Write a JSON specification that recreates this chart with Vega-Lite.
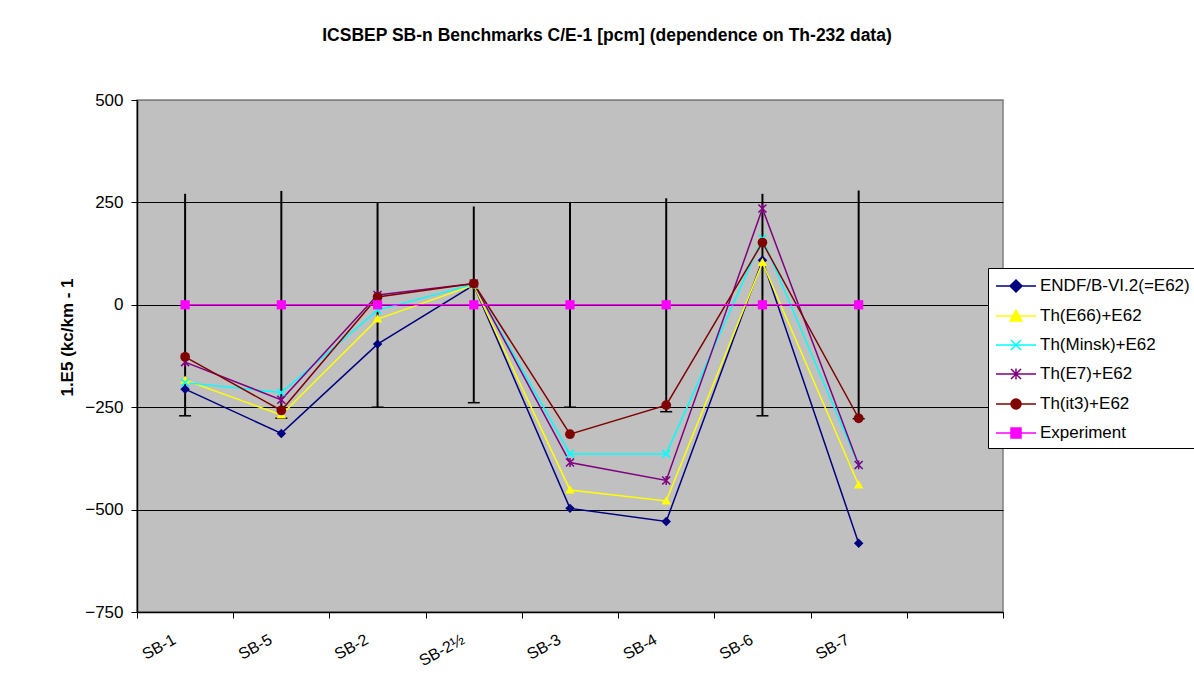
{
  "$schema": "https://vega.github.io/schema/vega-lite/v6.json",
  "width": 866,
  "height": 512,
  "autosize": {"type": "none"},
  "padding": {"left": 137, "top": 100, "right": 191, "bottom": 78},
  "background": "white",
  "title": {
    "text": "ICSBEP SB-n Benchmarks C/E-1 [pcm] (dependence on Th-232 data)",
    "font": "Liberation Sans",
    "fontSize": 17.5,
    "fontWeight": "bold",
    "color": "black",
    "anchor": "middle",
    "dx": 37,
    "offset": 47
  },
  "config": {
    "view": {"fill": "#C0C0C0", "stroke": "#808080", "strokeWidth": 1.5},
    "font": "Liberation Sans"
  },
  "datasets": {
    "err": [
      {"cat": "SB-1", "lo": -271, "hi": 271},
      {"cat": "SB-5", "lo": -277, "hi": 278},
      {"cat": "SB-2", "lo": -250, "hi": 250},
      {"cat": "SB-2½", "lo": -239, "hi": 240},
      {"cat": "SB-3", "lo": -250, "hi": 250},
      {"cat": "SB-4", "lo": -261, "hi": 260},
      {"cat": "SB-6", "lo": -271, "hi": 271},
      {"cat": "SB-7", "lo": -278, "hi": 279}
    ],
    "pts": [
      {"cat": "SB-1", "series": "ENDF/B-VI.2(=E62)", "value": -206},
      {"cat": "SB-5", "series": "ENDF/B-VI.2(=E62)", "value": -314},
      {"cat": "SB-2", "series": "ENDF/B-VI.2(=E62)", "value": -96},
      {"cat": "SB-2½", "series": "ENDF/B-VI.2(=E62)", "value": 48},
      {"cat": "SB-3", "series": "ENDF/B-VI.2(=E62)", "value": -497},
      {"cat": "SB-4", "series": "ENDF/B-VI.2(=E62)", "value": -529},
      {"cat": "SB-6", "series": "ENDF/B-VI.2(=E62)", "value": 109},
      {"cat": "SB-7", "series": "ENDF/B-VI.2(=E62)", "value": -582},
      {"cat": "SB-1", "series": "Th(E66)+E62", "value": -184},
      {"cat": "SB-5", "series": "Th(E66)+E62", "value": -269},
      {"cat": "SB-2", "series": "Th(E66)+E62", "value": -35},
      {"cat": "SB-2½", "series": "Th(E66)+E62", "value": 48},
      {"cat": "SB-3", "series": "Th(E66)+E62", "value": -452},
      {"cat": "SB-4", "series": "Th(E66)+E62", "value": -479},
      {"cat": "SB-6", "series": "Th(E66)+E62", "value": 103},
      {"cat": "SB-7", "series": "Th(E66)+E62", "value": -440},
      {"cat": "SB-1", "series": "Th(Minsk)+E62", "value": -190},
      {"cat": "SB-5", "series": "Th(Minsk)+E62", "value": -214},
      {"cat": "SB-2", "series": "Th(Minsk)+E62", "value": -13},
      {"cat": "SB-2½", "series": "Th(Minsk)+E62", "value": 50},
      {"cat": "SB-3", "series": "Th(Minsk)+E62", "value": -364},
      {"cat": "SB-4", "series": "Th(Minsk)+E62", "value": -364},
      {"cat": "SB-6", "series": "Th(Minsk)+E62", "value": 162},
      {"cat": "SB-7", "series": "Th(Minsk)+E62", "value": -391},
      {"cat": "SB-1", "series": "Th(E7)+E62", "value": -140},
      {"cat": "SB-5", "series": "Th(E7)+E62", "value": -232},
      {"cat": "SB-2", "series": "Th(E7)+E62", "value": 24},
      {"cat": "SB-2½", "series": "Th(E7)+E62", "value": 52},
      {"cat": "SB-3", "series": "Th(E7)+E62", "value": -385},
      {"cat": "SB-4", "series": "Th(E7)+E62", "value": -429},
      {"cat": "SB-6", "series": "Th(E7)+E62", "value": 235},
      {"cat": "SB-7", "series": "Th(E7)+E62", "value": -391},
      {"cat": "SB-1", "series": "Th(it3)+E62", "value": -127},
      {"cat": "SB-5", "series": "Th(it3)+E62", "value": -258},
      {"cat": "SB-2", "series": "Th(it3)+E62", "value": 19},
      {"cat": "SB-2½", "series": "Th(it3)+E62", "value": 52},
      {"cat": "SB-3", "series": "Th(it3)+E62", "value": -316},
      {"cat": "SB-4", "series": "Th(it3)+E62", "value": -245},
      {"cat": "SB-6", "series": "Th(it3)+E62", "value": 152},
      {"cat": "SB-7", "series": "Th(it3)+E62", "value": -277},
      {"cat": "SB-1", "series": "Experiment", "value": 0},
      {"cat": "SB-5", "series": "Experiment", "value": 0},
      {"cat": "SB-2", "series": "Experiment", "value": 0},
      {"cat": "SB-2½", "series": "Experiment", "value": 0},
      {"cat": "SB-3", "series": "Experiment", "value": 0},
      {"cat": "SB-4", "series": "Experiment", "value": 0},
      {"cat": "SB-6", "series": "Experiment", "value": 0},
      {"cat": "SB-7", "series": "Experiment", "value": 0}
    ]
  },
  "layer": [
    {
      "data": {"name": "err"},
      "mark": {"type": "rule", "color": "black", "strokeWidth": 2},
      "encoding": {
        "x": {
          "field": "cat", "type": "nominal", "bandPosition": 0.5,
          "scale": {"type": "band", "domain": ["SB-1", "SB-5", "SB-2", "SB-2½", "SB-3", "SB-4", "SB-6", "SB-7", " "], "paddingInner": 0, "paddingOuter": 0},
          "axis": {
            "title": null, "grid": false, "tickBand": "extent",
            "domainColor": "black", "domainWidth": 1.5, "tickColor": "black", "tickSize": 6, "tickWidth": 1,
            "labelAngle": -29, "labelAlign": "right", "labelBaseline": "middle", "labelPadding": 20, "labelOffset": -11,
            "labelFont": "Liberation Sans", "labelFontSize": 16, "labelColor": "black"
          }
        },
        "y": {
          "field": "lo", "type": "quantitative",
          "scale": {"domain": [-750, 500], "nice": false, "zero": false},
          "axis": {
            "values": [-750, -500, -250, 0, 250, 500],
            "grid": true,
            "gridColor": {"condition": {"test": "datum.value === 500", "value": "#808080"}, "value": "black"},
            "gridWidth": 1,
            "domainColor": "black", "domainWidth": 1.5, "tickColor": "black", "tickSize": 6,
            "labelFont": "Liberation Sans", "labelFontSize": 17, "labelColor": "black", "labelPadding": 8,
            "title": "1.E5 (kc/km - 1", "titleFont": "Liberation Sans", "titleFontSize": 17, "titleFontWeight": "bold", "titleColor": "black",
            "titleX": -70, "titleY": 237, "titleAngle": -90, "titleAlign": "center", "titleBaseline": "middle"
          }
        },
        "y2": {"field": "hi"}
      }
    },
    {
      "data": {"name": "err"},
      "mark": {"type": "tick", "color": "black", "thickness": 1.5, "size": 12, "orient": "horizontal", "opacity": 1},
      "encoding": {
        "x": {"field": "cat", "type": "nominal", "bandPosition": 0.5},
        "y": {"field": "lo", "type": "quantitative"}
      }
    },
    {
      "data": {"name": "pts"},
      "mark": {"type": "line", "strokeWidth": 1.5},
      "encoding": {
        "x": {"field": "cat", "type": "nominal", "bandPosition": 0.5},
        "y": {"field": "value", "type": "quantitative"},
        "color": {
          "field": "series", "type": "nominal",
          "scale": {
            "domain": ["ENDF/B-VI.2(=E62)", "Th(E66)+E62", "Th(Minsk)+E62", "Th(E7)+E62", "Th(it3)+E62", "Experiment"],
            "range": ["#000080", "#FFFF00", "#00FFFF", "#800080", "#800000", "#FF00FF"]
          },
          "legend": {
            "title": null, "orient": "none", "legendX": 851, "legendY": 168,
            "fillColor": "white", "strokeColor": "black", "padding": 7, "cornerRadius": 0,
            "labelFont": "Liberation Sans", "labelFontSize": 17, "labelColor": "black", "labelLimit": 300,
            "symbolSize": 400, "rowPadding": 10, "symbolOffset": 10, "labelOffset": 13,
            "encode": {
              "symbols": {
                "update": {
                  "shape": {"signal": "datum.value === 'ENDF/B-VI.2(=E62)' ? 'M-2,0H2M0,-0.6L0.6,0L0,0.6L-0.6,0Z' : datum.value === 'Th(E66)+E62' ? 'M-2,0H2M0,-0.6L0.6,0.5L-0.6,0.5Z' : datum.value === 'Th(Minsk)+E62' ? 'M-2,0H2M-0.5,-0.5L0.5,0.5M-0.5,0.5L0.5,-0.5' : datum.value === 'Th(E7)+E62' ? 'M-2,0H2M-0.5,-0.5L0.5,0.5M-0.5,0.5L0.5,-0.5M0,-0.55L0,0.55' : datum.value === 'Th(it3)+E62' ? 'M-2,0H2M-0.5,0A0.5,0.5,0,1,1,0.5,0A0.5,0.5,0,1,1,-0.5,0Z' : 'M-2,0H2M-0.5,-0.5H0.5V0.5H-0.5Z'"},
                  "fill": {"scale": "color", "field": "value"},
                  "stroke": {"scale": "color", "field": "value"},
                  "strokeWidth": {"value": 1.5},
                  "opacity": {"value": 1},
                  "fillOpacity": {"value": 1},
                  "strokeOpacity": {"value": 1}
                }
              }
            }
          }
        }
      }
    },
    {
      "data": {"name": "pts"},
      "encoding": {
        "x": {"field": "cat", "type": "nominal", "bandPosition": 0.5},
        "y": {"field": "value", "type": "quantitative"},
        "color": {"field": "series", "type": "nominal"}
      },
      "layer": [
        {
          "transform": [{"filter": "datum.series === 'ENDF/B-VI.2(=E62)'"}],
          "mark": {"type": "point", "shape": "diamond", "filled": true, "size": 90, "opacity": 1}
        },
        {
          "transform": [{"filter": "datum.series === 'Th(E66)+E62'"}],
          "mark": {"type": "point", "shape": "M0,-1.1L1.1,0.8L-1.1,0.8Z", "filled": true, "size": 75, "opacity": 1}
        },
        {
          "transform": [{"filter": "datum.series === 'Th(Minsk)+E62'"}],
          "mark": {"type": "point", "shape": "M-1,-1L1,1M-1,1L1,-1", "filled": false, "size": 64, "strokeWidth": 1.5, "opacity": 1}
        },
        {
          "transform": [{"filter": "datum.series === 'Th(E7)+E62'"}],
          "mark": {"type": "point", "shape": "M-1,-1L1,1M-1,1L1,-1M0,-1.1L0,1.1", "filled": false, "size": 64, "strokeWidth": 1.5, "opacity": 1}
        },
        {
          "transform": [{"filter": "datum.series === 'Th(it3)+E62'"}],
          "mark": {"type": "point", "shape": "circle", "filled": true, "size": 95, "opacity": 1}
        },
        {
          "transform": [{"filter": "datum.series === 'Experiment'"}],
          "mark": {"type": "point", "shape": "square", "filled": true, "size": 85, "opacity": 1}
        }
      ]
    }
  ]
}
